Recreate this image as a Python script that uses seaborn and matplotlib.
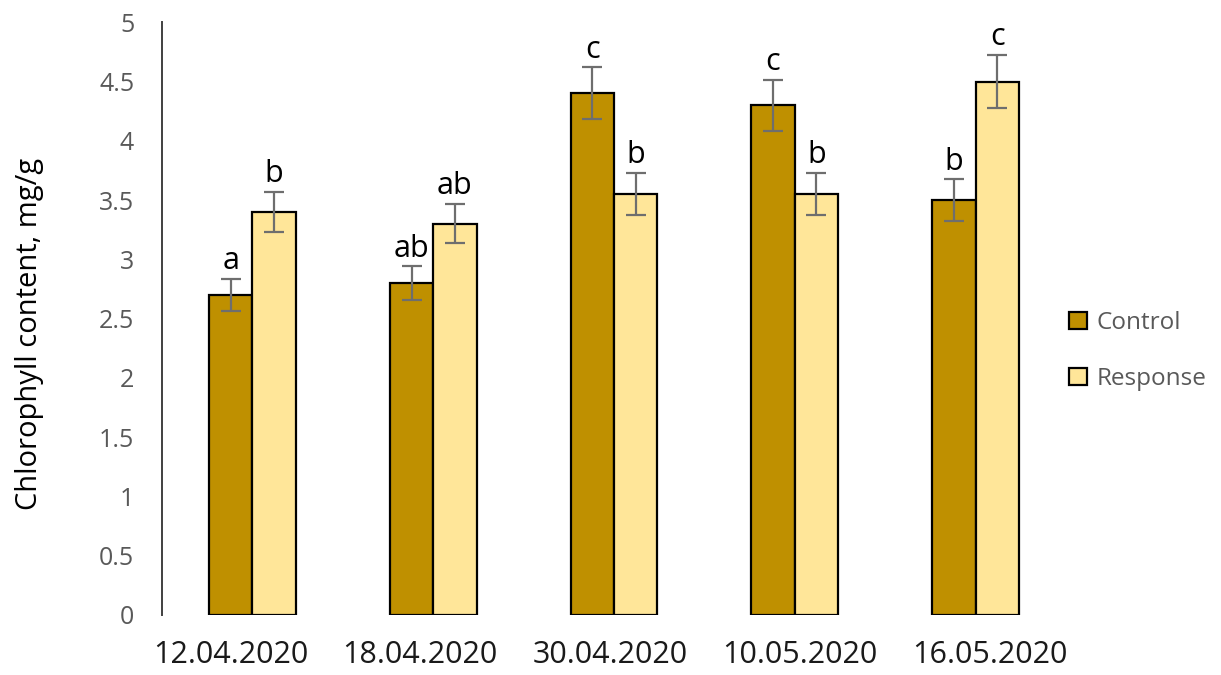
import matplotlib
matplotlib.use("Agg")
import matplotlib.pyplot as plt
import matplotlib.transforms as mtransforms
import seaborn as sns
import pandas as pd
from matplotlib.patches import Patch

dates = ["12.04.2020", "18.04.2020", "30.04.2020", "10.05.2020", "16.05.2020"]
control = [2.70, 2.80, 4.40, 4.30, 3.50]
response = [3.40, 3.30, 3.55, 3.55, 4.50]
control_err = [0.135, 0.14, 0.22, 0.215, 0.175]
response_err = [0.17, 0.165, 0.178, 0.178, 0.225]
control_letters = ["a", "ab", "c", "c", "b"]
response_letters = ["b", "ab", "b", "b", "c"]
yticks = [0, 0.5, 1, 1.5, 2, 2.5, 3, 3.5, 4, 4.5, 5]

series = ["Control", "Response"]
colors = {"Control": "#BF9000", "Response": "#FFE699"}

df = pd.DataFrame({
    "date": dates * 2,
    "group": ["Control"] * len(dates) + ["Response"] * len(dates),
    "value": control + response,
})

sns.set_theme(style="white")
plt.rcParams["font.family"] = ["Open Sans", "DejaVu Sans"]

fig = plt.figure(figsize=(12.21, 6.75), dpi=100)
ax = fig.add_axes([0.1327, 0.0889, 0.7403, 0.8781])

sns.barplot(data=df, x="date", y="value", hue="group", hue_order=series,
            palette=colors, saturation=1, width=0.48, gap=0, errorbar=None,
            edgecolor="black", linewidth=1.6, legend=False, ax=ax)

errs = [control_err, response_err]
letters = [control_letters, response_letters]
for cont, err, labs in zip(ax.containers, errs, letters):
    for bar, e, lab in zip(cont, err, labs):
        x = bar.get_x() + bar.get_width() / 2
        h = bar.get_height()
        ax.errorbar(x, h, yerr=e, fmt="none", ecolor="#6E6E6E",
                    elinewidth=1.6, capsize=7, capthick=1.6, zorder=5)
        ax.annotate(lab, (x, h + e), xytext=(0, 2), textcoords="offset points",
                    ha="center", va="bottom", fontsize=22, color="black")

ax.set_xlim(-0.5, len(dates) - 0.5)
ax.set_ylim(0, 5)
ax.set_yticks(yticks)
ax.set_yticklabels([f"{t:g}" for t in yticks])
ax.set_xlabel("")
ax.set_ylabel("Chlorophyll content, mg/g", fontsize=21, color="black")
ax.yaxis.set_label_coords(-0.131, 0.475)
ax.tick_params(axis="y", labelsize=18, labelcolor="#595959", length=0, pad=20)
ax.tick_params(axis="x", labelsize=22, labelcolor="#1a1a1a", length=0, pad=18)

# spread the date labels slightly wider than the bar groups
n = len(dates)
for i, lab in enumerate(ax.get_xticklabels()):
    dx = ((i - (n - 1) / 2) * 9 - 4) / fig.dpi
    lab.set_transform(lab.get_transform() +
                      mtransforms.ScaledTranslation(dx, 0, fig.dpi_scale_trans))

for side in ["top", "right", "bottom"]:
    ax.spines[side].set_visible(False)
ax.spines["left"].set_color("#404040")
ax.spines["left"].set_linewidth(1.4)

handles = [Patch(facecolor=colors[s], edgecolor="black", linewidth=1.6, label=s)
           for s in series]
leg = fig.legend(handles=handles, loc="center left", bbox_to_anchor=(0.858, 0.48),
                 frameon=False, fontsize=17.5, handlelength=0.7, handleheight=0.7,
                 handletextpad=0.4, labelspacing=1.3)
for t in leg.get_texts():
    t.set_color("#595959")

fig.savefig("out.png", dpi=100)
